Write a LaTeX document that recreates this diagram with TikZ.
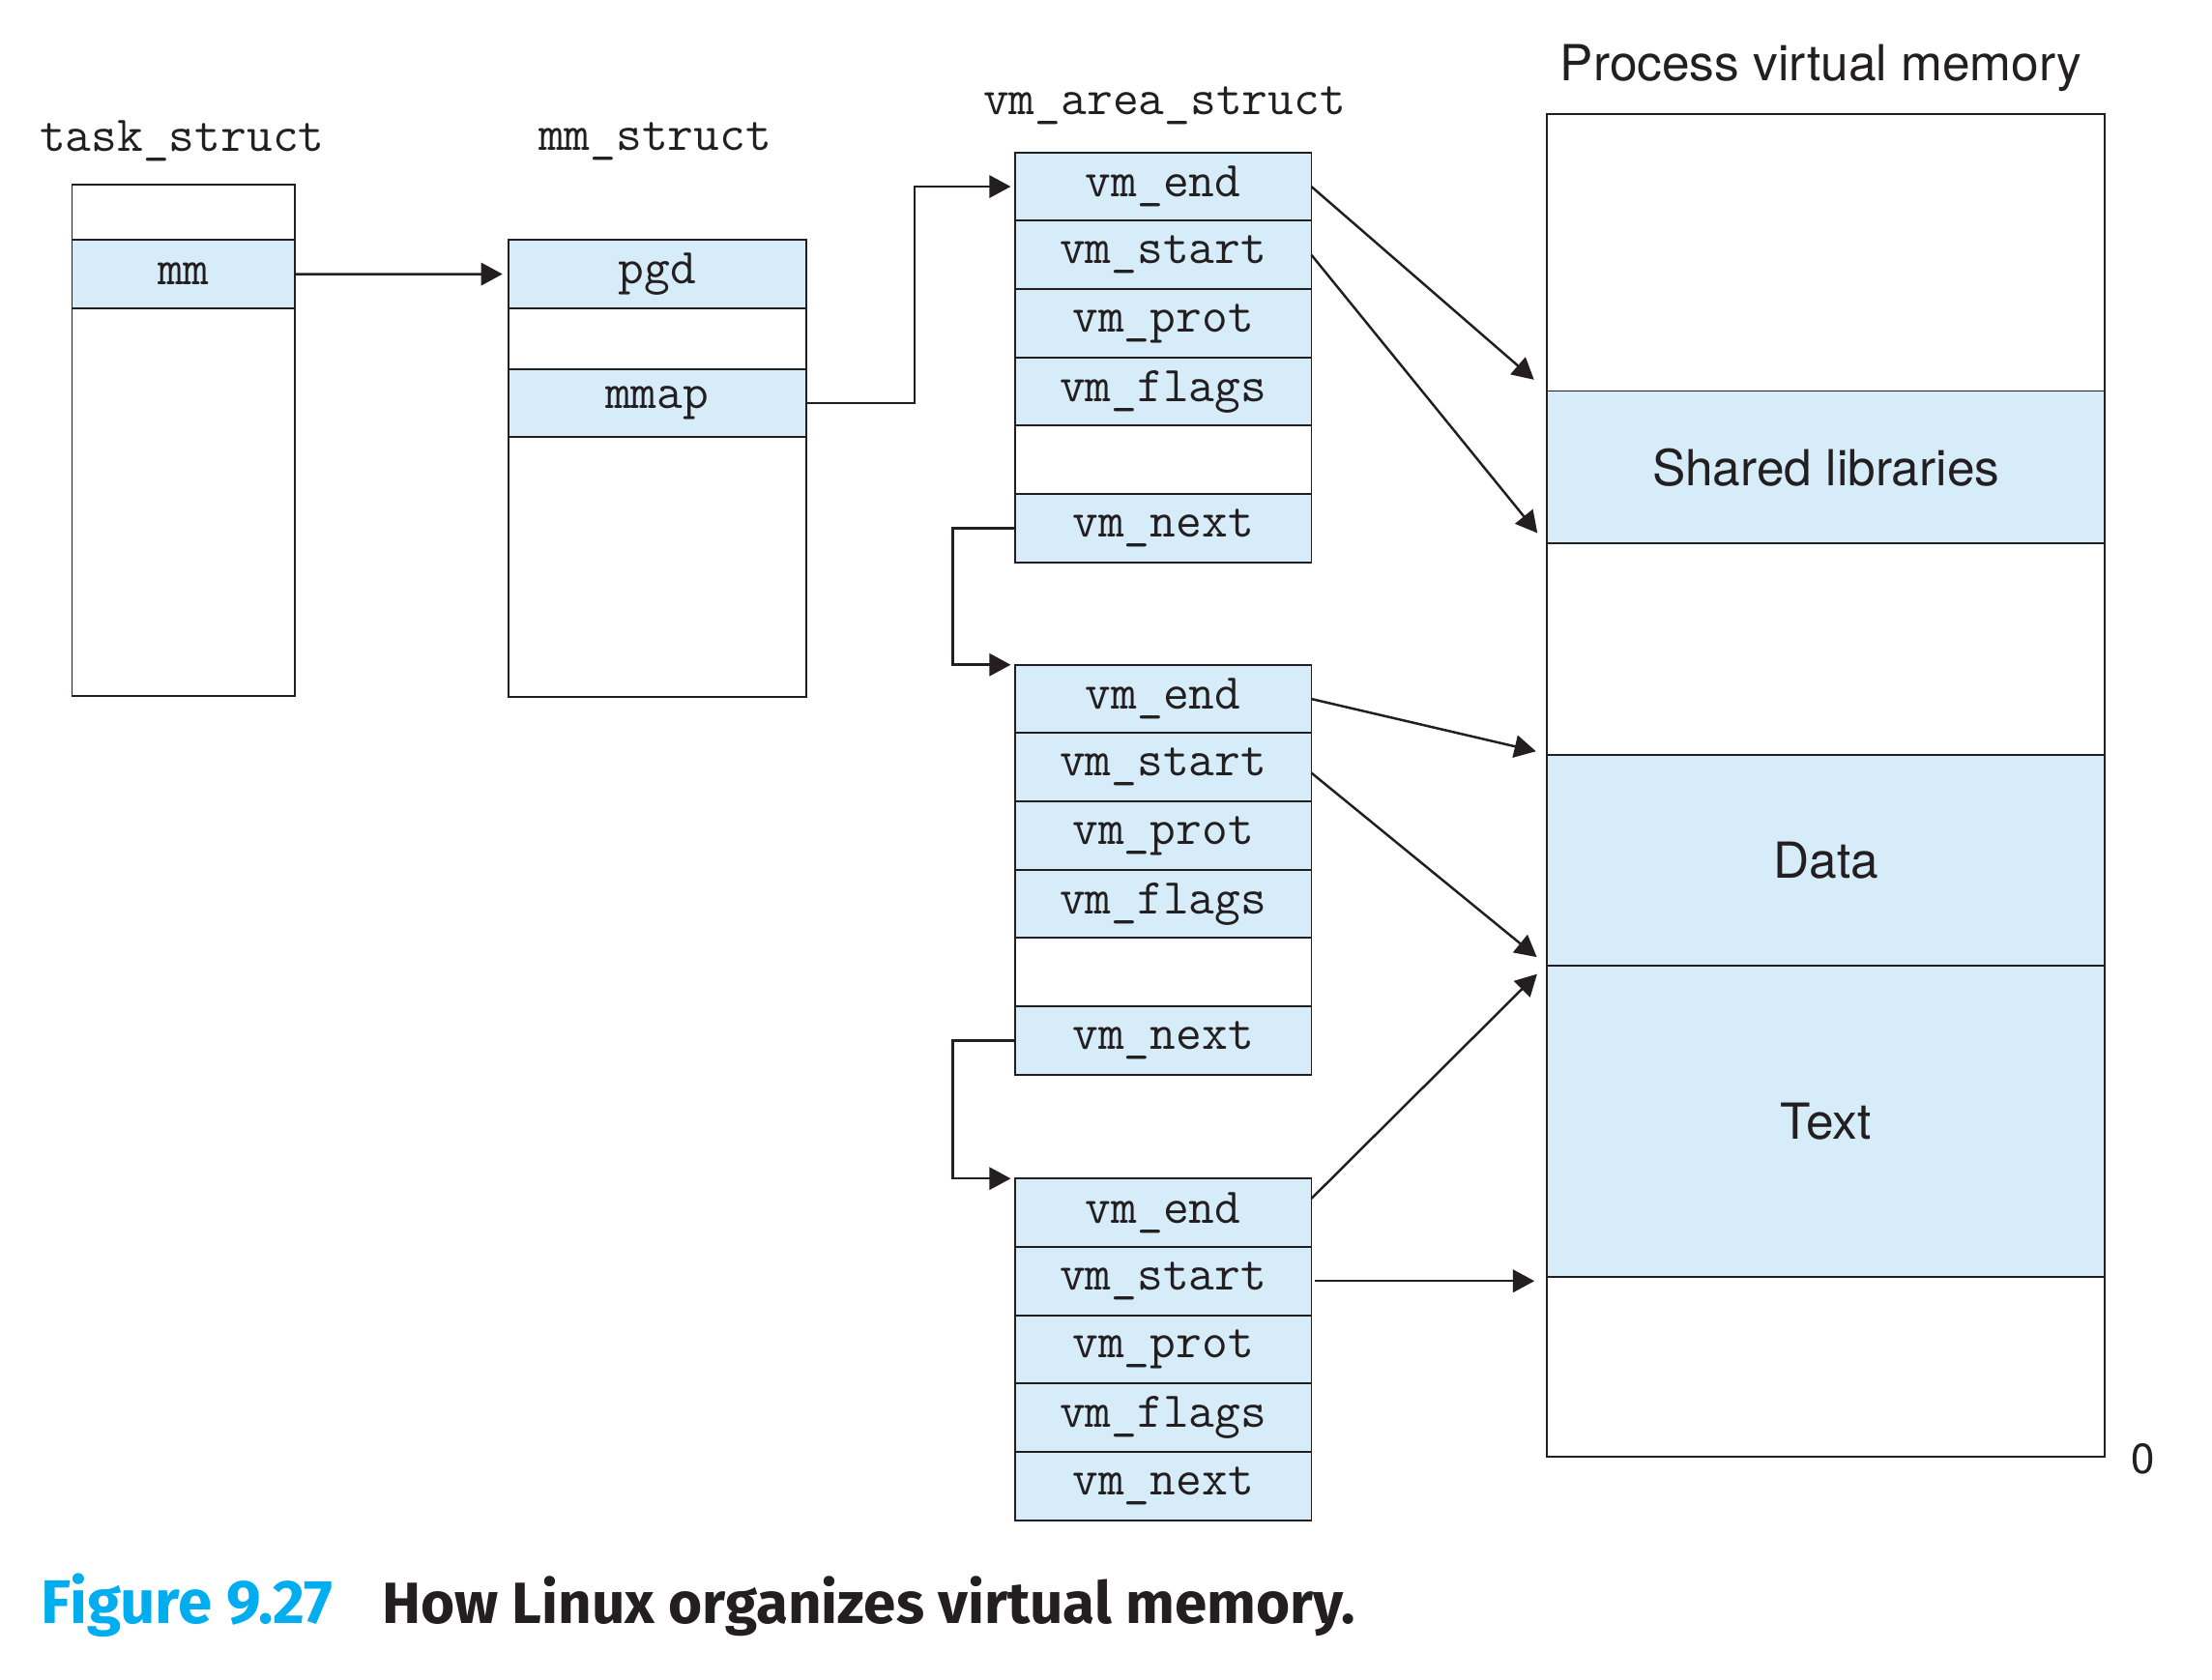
\documentclass[tikz,border=0pt]{standalone}
\usepackage{fontspec}
\setsansfont{TeX Gyre Heros}
\newfontfamily\capfont{Fira Sans}
\usetikzlibrary{positioning,arrows.meta}
\definecolor{vmblue}{RGB}{214,236,249}
\definecolor{figcyan}{RGB}{0,174,239}
\definecolor{ink}{RGB}{35,31,32}
\tikzset{
  field/.style={draw=ink, fill=vmblue, line width=0.65pt, outer sep=0pt, inner sep=0pt,
    minimum width=105pt, minimum height=24.2pt, text=ink, font=\fontsize{17.8}{20}\ttfamily},
  blank/.style={field, fill=white},
  seg/.style={field, minimum width=197.5pt, font=\fontsize{17.6}{20}\sffamily},
  segblank/.style={seg, fill=white},
  title/.style={text=ink, font=\fontsize{17.8}{20}\ttfamily},
  ptr/.style={draw=ink, line width=0.85pt, -{Triangle[length=7.6pt,width=8pt]}, shorten >=1.5pt},
}

\begin{document}
\begin{tikzpicture}[x=50pt,y=-50pt]
  \useasboundingbox (0,0) rectangle (15.67,11.90);
  % task_struct
  \node[title] (tlabel) at (1.29,1.00) {task\_struct};
  \node[blank, minimum width=79pt, minimum height=19.5pt, anchor=north] (t0) at (1.30,1.31) {};
  \node[field, minimum width=79pt, below=0pt of t0] (mm) {mm};
  \node[blank, minimum width=79pt, minimum height=137.5pt, below=0pt of mm] (t1) {};
  % mm_struct
  \node[title] (mlabel) at (4.64,1.00) {mm\_struct};
  \node[field, minimum width=105.5pt, anchor=north] (pgd) at (4.655,1.70) {pgd};
  \node[blank, minimum width=105.5pt, minimum height=21.5pt, below=0pt of pgd] (m0) {};
  \node[field, minimum width=105.5pt, below=0pt of m0] (mmap) {mmap};
  \node[blank, minimum width=105.5pt, minimum height=92pt, below=0pt of mmap] (m1) {};
  % vm_area_struct list
  \node[title] (alabel) at (8.25,0.75) {vm\_area\_struct};
  \foreach \b/\top in {1/1.08,2/4.71,3/8.35} {
    \node[field, anchor=north] (e\b) at (8.24,\top) {vm\_end};
    \node[field, below=0pt of e\b] (s\b) {vm\_start};
    \node[field, below=0pt of s\b] (p\b) {vm\_prot};
    \node[field, below=0pt of p\b] (f\b) {vm\_flags};
  }
  \node[blank, below=0pt of f1] (g1) {};
  \node[field, below=0pt of g1] (n1) {vm\_next};
  \node[blank, below=0pt of f2] (g2) {};
  \node[field, below=0pt of g2] (n2) {vm\_next};
  \node[field, below=0pt of f3] (n3) {vm\_next};
  % process virtual memory
  \node[text=ink, font=\fontsize{17.6}{20}\sffamily] (plabel) at (12.90,0.48) {Process virtual memory};
  \node[segblank, minimum height=98pt, anchor=north] (pvtop) at (12.935,0.81) {};
  \node[seg, minimum height=54pt, below=0pt of pvtop] (shlib) {Shared libraries};
  \node[segblank, minimum height=75pt, below=0pt of shlib] (pvgap) {};
  \node[seg, minimum height=74.5pt, below=0pt of pvgap] (data) {Data};
  \node[seg, minimum height=110.5pt, below=0pt of data] (txt) {Text};
  \node[segblank, minimum height=63.5pt, below=0pt of txt] (pvlow) {};
  \node[text=ink, font=\fontsize{15}{18}\sffamily] (zero) at (15.18,10.34) {0};
  % pointers
  \draw[ptr, shorten >=2pt] (mm.east) -- (pgd.west);
  \draw[ptr] (mmap.east) -- ++(0.77,0) |- (e1.west);
  \draw[ptr] (n1.west) -- ++(-0.44,0) |- (e2.north west);
  \draw[ptr] (n2.west) -- ++(-0.44,0) |- (e3.north west);
  \draw[ptr] (e1.east) -- ([xshift=-3.5pt,yshift=3pt]shlib.north west);
  \draw[ptr] (s1.east) -- ([xshift=-2.5pt,yshift=2.5pt]shlib.south west);
  \draw[ptr] (e2.east) -- ([xshift=-2.5pt,yshift=1pt]data.north west);
  \draw[ptr] ([yshift=-2pt]s2.east) -- ([xshift=-2.5pt,yshift=2pt]txt.north west);
  \draw[ptr] ([yshift=5pt]e3.east) -- ([xshift=-2.5pt,yshift=-2pt]txt.north west);
  \draw[ptr, shorten <=1.3pt] (s3.east) -- ([xshift=-3pt]s3.east -| pvlow.west);
  % caption
  \node[anchor=base west, inner sep=0pt, text=figcyan, font=\fontsize{21.8}{24}\capfont\bfseries] (capnum) at (0.29,11.50) {Figure 9.27};
  \node[base right=17pt of capnum, inner sep=0pt, text=ink, font=\fontsize{20.6}{24}\capfont\bfseries] (captext) {How Linux organizes virtual memory.};
\end{tikzpicture}
\end{document}
